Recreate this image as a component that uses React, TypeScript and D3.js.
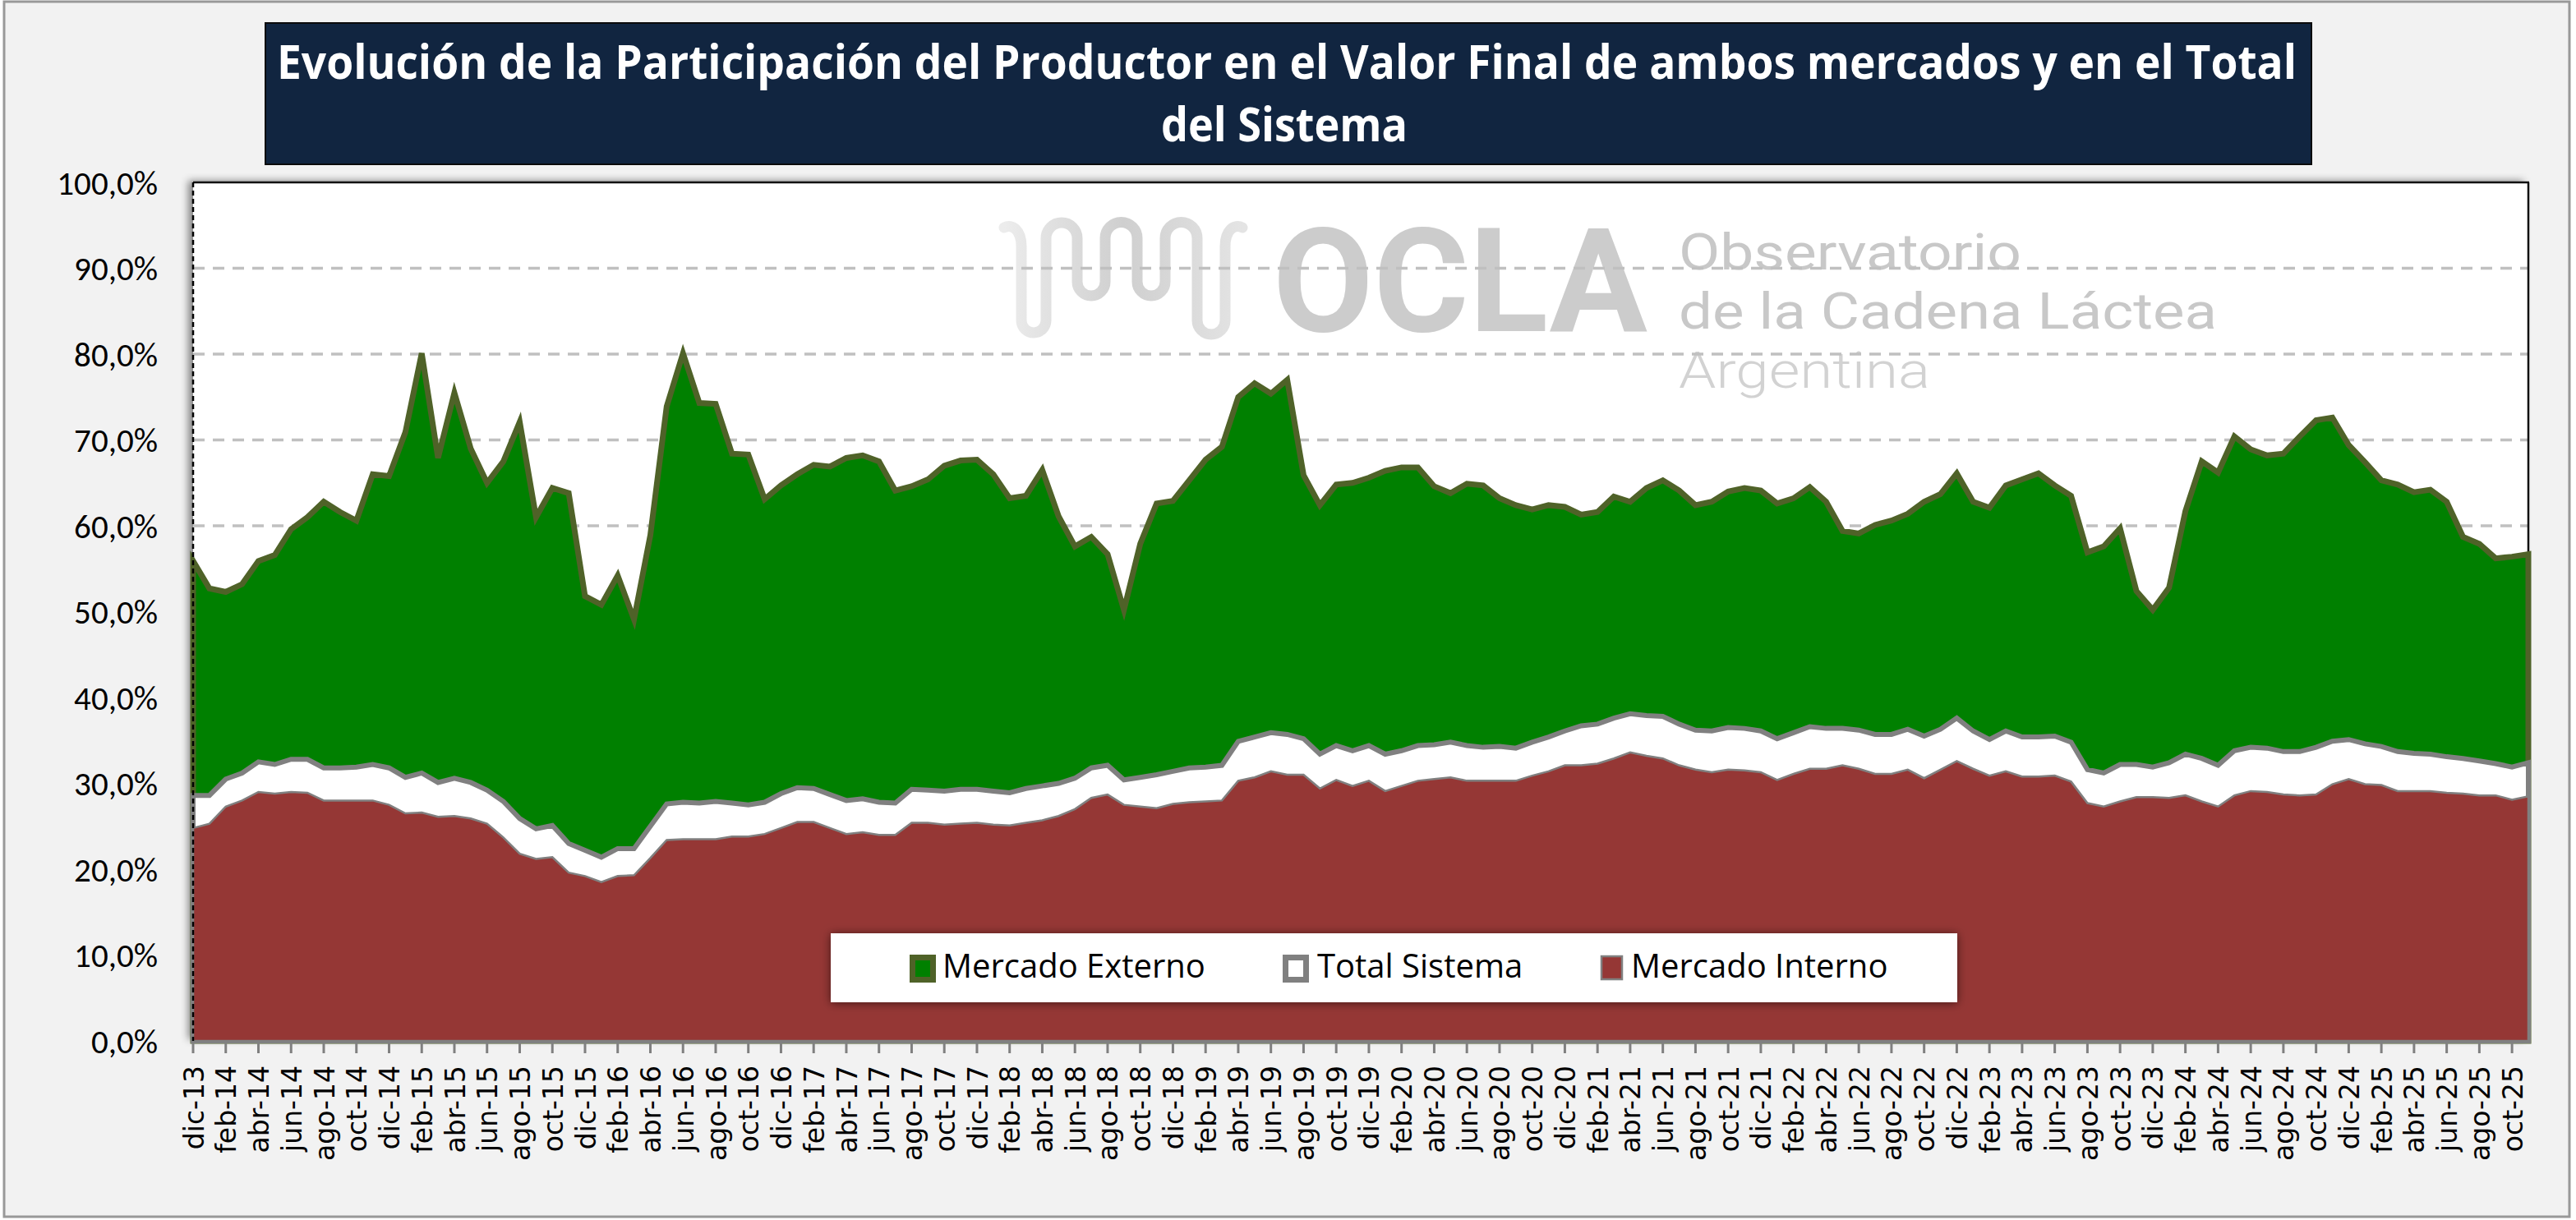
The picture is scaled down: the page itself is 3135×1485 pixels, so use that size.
import React from "react";
import * as d3 from "d3";

// ---- Data (percent values) ----
const MONTHS = ["ene", "feb", "mar", "abr", "may", "jun", "jul", "ago", "sep", "oct", "nov", "dic"];
const START_MONTH = 11; // dic
const START_YEAR = 13;

const mercadoExterno = [
  55.9, 52.7, 52.3, 53.2, 55.9, 56.6, 59.6, 61.0, 62.8, 61.6, 60.6, 66.0,
  65.8, 70.9, 80.1, 67.9, 75.5, 69.0, 65.0, 67.5, 72.1, 61.0, 64.4, 63.8,
  51.8, 50.8, 54.2, 49.1, 58.9, 73.9, 80.1, 74.3, 74.2, 68.4, 68.3, 63.1,
  64.7, 66.0, 67.1, 66.9, 67.9, 68.2, 67.5, 64.1, 64.6, 65.4, 67.0, 67.6,
  67.7, 66.0, 63.2, 63.5, 66.5, 61.1, 57.6, 58.7, 56.7, 50.2, 57.9, 62.6,
  62.9, 65.3, 67.7, 69.2, 75.0, 76.6, 75.4, 77.0, 65.9, 62.4, 64.8, 65.0,
  65.6, 66.4, 66.8, 66.8, 64.6, 63.8, 64.9, 64.7, 63.2, 62.4, 61.9, 62.4,
  62.2, 61.3, 61.6, 63.4, 62.8, 64.4, 65.3, 64.1, 62.4, 62.8, 64.0, 64.4,
  64.1, 62.6, 63.2, 64.5, 62.8, 59.4, 59.1, 60.1, 60.6, 61.4, 62.8, 63.7,
  66.1, 62.8, 62.1, 64.7, 65.4, 66.1, 64.7, 63.5, 56.9, 57.6, 59.7, 52.4,
  50.2, 52.8, 61.7, 67.5, 66.2, 70.4, 68.9, 68.2, 68.4, 70.4, 72.3, 72.6,
  69.4, 67.4, 65.3, 64.8, 63.9, 64.2, 62.8, 58.7, 57.9, 56.2, 56.4, 56.7,
];

const totalSistema = [
  28.6, 28.6, 30.5, 31.2, 32.5, 32.2, 32.8, 32.8, 31.8, 31.8, 31.9, 32.2,
  31.8, 30.7, 31.2, 30.1, 30.6, 30.1, 29.2, 27.9, 25.9, 24.7, 25.1, 23.0,
  22.2, 21.4, 22.4, 22.4, 25.0, 27.6, 27.8, 27.7, 27.9, 27.7, 27.5, 27.8,
  28.8, 29.5, 29.4, 28.7, 28.0, 28.2, 27.8, 27.7, 29.3, 29.2, 29.1, 29.3,
  29.3, 29.1, 28.9, 29.4, 29.7, 30.0, 30.6, 31.8, 32.1, 30.4, 30.7, 31.0,
  31.4, 31.8, 31.9, 32.1, 34.9, 35.4, 35.9, 35.7, 35.2, 33.4, 34.4, 33.8,
  34.4, 33.4, 33.8, 34.4, 34.5, 34.8, 34.4, 34.2, 34.3, 34.1, 34.8, 35.4,
  36.1, 36.7, 36.9, 37.6, 38.1, 37.9, 37.8, 36.9, 36.2, 36.1, 36.5, 36.4,
  36.1, 35.2, 35.9, 36.6, 36.4, 36.4, 36.2, 35.7, 35.7, 36.3, 35.5, 36.3,
  37.6, 36.1, 35.1, 36.1, 35.4, 35.4, 35.5, 34.8, 31.6, 31.2, 32.2, 32.2,
  31.9, 32.4, 33.4, 32.9, 32.1, 33.8, 34.2, 34.1, 33.7, 33.7, 34.2, 34.9,
  35.1, 34.6, 34.3, 33.7, 33.5, 33.4, 33.1, 32.9, 32.6, 32.3, 31.9, 32.4,
];

const mercadoInterno = [
  24.8, 25.3, 27.3, 28.0, 29.0, 28.8, 29.0, 28.9, 28.0, 28.0, 28.0, 28.0,
  27.5, 26.5, 26.6, 26.1, 26.2, 25.9, 25.3, 23.7, 21.8, 21.2, 21.4, 19.6,
  19.2, 18.5, 19.2, 19.3, 21.3, 23.4, 23.5, 23.5, 23.5, 23.8, 23.8, 24.1,
  24.8, 25.5, 25.5, 24.8, 24.1, 24.3, 24.0, 24.0, 25.4, 25.4, 25.2, 25.3,
  25.4, 25.2, 25.1, 25.4, 25.7, 26.2, 27.0, 28.3, 28.7, 27.5, 27.3, 27.1,
  27.6, 27.8, 27.9, 28.0, 30.3, 30.7, 31.4, 31.0, 31.0, 29.4, 30.4, 29.7,
  30.3, 29.1, 29.7, 30.3, 30.5, 30.7, 30.3, 30.3, 30.3, 30.3, 30.9, 31.4,
  32.1, 32.1, 32.3, 32.9, 33.6, 33.2, 32.9, 32.1, 31.6, 31.3, 31.6, 31.5,
  31.3, 30.4, 31.1, 31.7, 31.7, 32.1, 31.7, 31.1, 31.1, 31.6, 30.6, 31.6,
  32.6, 31.7, 30.9, 31.4, 30.8, 30.8, 30.9, 30.2, 27.7, 27.3, 27.9, 28.4,
  28.4, 28.3, 28.6, 27.9, 27.3, 28.6, 29.1, 29.0, 28.7, 28.6, 28.7, 29.9,
  30.5, 29.9, 29.8, 29.1, 29.1, 29.1, 28.9, 28.8, 28.6, 28.6, 28.1, 28.5,
];

const yTicks = [0, 10, 20, 30, 40, 50, 60, 70, 80, 90, 100];

const categories = mercadoExterno.map((_, i) => {
  const m = (START_MONTH + i) % 12;
  const yr = START_YEAR + Math.floor((START_MONTH + i) / 12);
  return `${MONTHS[m]}-${yr}`;
});

const legendItems = [
  { label: "Mercado Externo", fill: "#008000", stroke: "#4f6228", sw: 7 },
  { label: "Total Sistema", fill: "#ffffff", stroke: "#808080", sw: 7 },
  { label: "Mercado Interno", fill: "#953735", stroke: "#808080", sw: 2.5 },
];

// ---- Layout ----
const W = 3135;
const H = 1485;
const PL = 235;
const PR = 3077;
const PT = 222;
const PB = 1267;

export default function App() {
  const x = d3.scaleLinear().domain([0, mercadoExterno.length - 1]).range([PL, PR]);
  const y = d3.scaleLinear().domain([0, 100]).range([PB, PT]);

  const area = d3
    .area<number>()
    .x((_, i) => x(i))
    .y0(y(0))
    .y1((d) => y(d));

  const fmt = (v: number) => v.toFixed(1).replace(".", ",") + "%";

  const legendX = [1110.5, 1564.5, 1949];
  const legendY = [1165.5, 1165.5, 1164];
  const legendH = [27, 27, 28];
  const legendTextX = [1147, 1603, 1985];

  return (
    <svg
      width={W}
      height={H}
      viewBox={`0 0 ${W} ${H}`}
      style={{ position: "absolute", left: 0, top: 0, background: "#ffffff" }}
    >
      <defs>
        <filter id="plotShadow" x="-3%" y="-5%" width="106%" height="110%">
          <feDropShadow dx="-6" dy="-2" stdDeviation="5" floodColor="#000" floodOpacity="0.45" />
        </filter>
        <filter id="legendShadow" x="-5%" y="-40%" width="110%" height="180%">
          <feDropShadow dx="0" dy="1" stdDeviation="6" floodColor="#000" floodOpacity="0.55" />
        </filter>
        <linearGradient id="waveGrad" x1="0" y1="0" x2="1" y2="0">
          <stop offset="0%" stopColor="#ececec" />
          <stop offset="50%" stopColor="#cfcfcf" />
          <stop offset="100%" stopColor="#e4e4e4" />
        </linearGradient>
      </defs>

      {/* outer frame */}
      <rect x={5} y={2} width={3122} height={1479} fill="#f2f2f2" stroke="#999999" strokeWidth={3} />

      {/* title */}
      <rect x={323} y={28} width={2490} height={172} fill="#112540" stroke="#0b0b0b" strokeWidth={2} />
      <text
        fill="#ffffff"
        fontFamily="'Open Sans', 'Noto Sans', sans-serif"
        fontWeight={700}
        fontSize={58}
        textAnchor="middle"
      >
        <tspan x={1566} y={96} textLength={2458} lengthAdjust="spacingAndGlyphs">
          Evolución de la Participación del Productor en el Valor Final de ambos mercados y en el Total
        </tspan>
        <tspan x={1563} y={172} textLength={300} lengthAdjust="spacingAndGlyphs">
          del Sistema
        </tspan>
      </text>

      {/* plot area */}
      <rect x={PL} y={PT} width={PR - PL} height={PB - PT} fill="#ffffff" filter="url(#plotShadow)" />

      {/* watermark */}
      <g>
        <path
          d="M 1222 277 C 1232 272, 1243 280, 1243 300 L 1243 390 A 15 15 0 0 0 1273 390 L 1273 290 A 19 19 0 0 1 1311 290 L 1311 343 A 17 17 0 0 0 1345 343 L 1345 290 A 19.5 19.5 0 0 1 1384 290 L 1384 343 A 17 17 0 0 0 1418 343 L 1418 290 A 19.5 19.5 0 0 1 1457 290 L 1457 390 A 17 17 0 0 0 1491 390 L 1491 300 C 1491 280, 1502 272, 1512 277"
          fill="none"
          stroke="url(#waveGrad)"
          strokeWidth={13}
          strokeLinecap="round"
        />
        <text x={1549} y={403} fill="#cccccc" fontFamily="Roboto, sans-serif" fontWeight={700} fontSize={177} textLength={456} lengthAdjust="spacingAndGlyphs">
          OCLA
        </text>
        <text x={2043} y={328} fill="#c8c8c8" fontFamily="Roboto, sans-serif" fontSize={61} textLength={417} lengthAdjust="spacingAndGlyphs">
          Observatorio
        </text>
        <text x={2043} y={400} fill="#c8c8c8" fontFamily="Roboto, sans-serif" fontSize={61} textLength={655} lengthAdjust="spacingAndGlyphs">
          de la Cadena Láctea
        </text>
        <text x={2043} y={472} fill="#d2d2d2" fontFamily="Roboto, sans-serif" fontWeight={300} fontSize={61} textLength={306} lengthAdjust="spacingAndGlyphs">
          Argentina
        </text>
      </g>

      {/* gridlines */}
      {yTicks
        .filter((t) => t > 0 && t < 100)
        .map((t) => (
          <line key={t} x1={PL} x2={PR} y1={y(t)} y2={y(t)} stroke="#c0c0c0" strokeWidth={3.5} strokeDasharray="14,10" />
        ))}

      {/* top/right border */}
      <line x1={PL} x2={PR + 1} y1={PT} y2={PT} stroke="#111" strokeWidth={2.5} />
      <line x1={PR} x2={PR} y1={PT} y2={PB} stroke="#111" strokeWidth={2.5} />

      {/* areas */}
      <path d={area(mercadoExterno) || ""} fill="#008000" stroke="#4f6228" strokeWidth={7} strokeLinejoin="miter" strokeMiterlimit={4} />
      <path d={area(totalSistema) || ""} fill="#ffffff" stroke="#808080" strokeWidth={6} strokeLinejoin="miter" strokeMiterlimit={4} />
      <path d={area(mercadoInterno) || ""} fill="#953735" stroke="#808080" strokeWidth={2.5} />

      {/* left dashed axis */}
      <line x1={PL} x2={PL} y1={PT} y2={PB} stroke="#000" strokeWidth={2.5} strokeDasharray="6,4" />

      {/* y labels */}
      {yTicks.map((t) => (
        <text
          key={t}
          x={192}
          y={y(t)}
          dy="0.36em"
          textAnchor="end"
          fill="#000"
          fontFamily="Carlito, Calibri, 'Open Sans', sans-serif"
          fontSize={41}
        >
          {fmt(t)}
        </text>
      ))}

      {/* x ticks and labels */}
      {categories.map((c, i) =>
        i % 2 === 0 ? (
          <g key={c}>
            <line x1={x(i)} x2={x(i)} y1={PB} y2={PB + 15} stroke="#808080" strokeWidth={3} />
            <text
              transform={`translate(${x(i)},1297) rotate(-90)`}
              dy="0.38em"
              textAnchor="end"
              fill="#000"
              fontFamily="'DejaVu Sans', Verdana, sans-serif"
              fontSize={33}
            >
              {c}
            </text>
          </g>
        ) : null
      )}

      {/* legend */}
      <rect x={1011} y={1136} width={1371} height={84} fill="#ffffff" filter="url(#legendShadow)" />
      {legendItems.map((it, k) => (
        <g key={it.label}>
          <rect
            x={legendX[k]}
            y={legendY[k]}
            width={25}
            height={legendH[k]}
            fill={it.fill}
            stroke={it.stroke}
            strokeWidth={it.sw}
          />
          <text
            x={legendTextX[k]}
            y={1190}
            fill="#000"
            fontFamily="'Open Sans', 'Noto Sans', sans-serif"
            fontSize={40}
          >
            {it.label}
          </text>
        </g>
      ))}
    </svg>
  );
}
